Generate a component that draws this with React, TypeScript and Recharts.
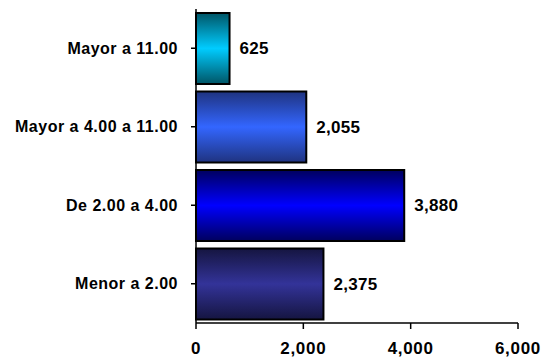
import React from "react";
import { BarChart, Bar, XAxis, YAxis, Cell, LabelList } from "recharts";

const categories = ["Mayor a 11.00", "Mayor a 4.00 a 11.00", "De 2.00 a 4.00", "Menor a 2.00"];
const values = [625, 2055, 3880, 2375];
const xTicks = [0, 2000, 4000, 6000];
const centerColors = ["#00CCFF", "#3366FF", "#0000FF", "#333399"];
const edgeColors = ["#005566", "#1F3380", "#00005E", "#151540"];

const data = categories.map((c, i) => ({ name: c, value: values[i] }));

const fontFamily = "'Liberation Sans', Arial, sans-serif";

export default function App() {
  return (
    <div style={{ position: "absolute", left: 0, top: 0, background: "#fff" }}>
      <BarChart
        width={543}
        height={361}
        data={data}
        layout="vertical"
        margin={{ top: 9, right: 25, bottom: 0, left: 0 }}
        barCategoryGap="5%"
      >
        <defs>
          {centerColors.map((c, i) => (
            <linearGradient key={i} id={`g${i}`} x1="0" y1="0" x2="0" y2="1">
              <stop offset="0%" stopColor={edgeColors[i]} />
              <stop offset="50%" stopColor={c} />
              <stop offset="100%" stopColor={edgeColors[i]} />
            </linearGradient>
          ))}
        </defs>
        <XAxis
          type="number"
          domain={[0, 6000]}
          ticks={xTicks}
          tickFormatter={(v: number) => v.toLocaleString("en-US")}
          axisLine={{ stroke: "#000", strokeWidth: 1.5 }}
          tickLine={{ stroke: "#000", strokeWidth: 1.5 }}
          tickSize={6}
          tickMargin={13}
          height={38}
          tick={{ fill: "#000", fontSize: 17, fontWeight: "bold", fontFamily, letterSpacing: 0.7 }}
          interval={0}
        />
        <YAxis
          type="category"
          dataKey="name"
          width={196}
          axisLine={{ stroke: "#000", strokeWidth: 1.5 }}
          tickLine={{ stroke: "#000", strokeWidth: 1.5 }}
          tickSize={5}
          tickMargin={13}
          tick={{ fill: "#000", fontSize: 16, fontWeight: "bold", fontFamily, letterSpacing: 0.5 }}
          interval={0}
        />
        <Bar dataKey="value" isAnimationActive={false} stroke="#000" strokeWidth={2}>
          {data.map((d, i) => (
            <Cell key={i} fill={`url(#g${i})`} />
          ))}
          <LabelList
            dataKey="value"
            position="right"
            offset={10}
            formatter={(v: number) => v.toLocaleString("en-US")}
            style={{ fill: "#000", fontSize: 17, fontWeight: "bold", fontFamily, letterSpacing: 0.3 }}
          />
        </Bar>
      </BarChart>
    </div>
  );
}
